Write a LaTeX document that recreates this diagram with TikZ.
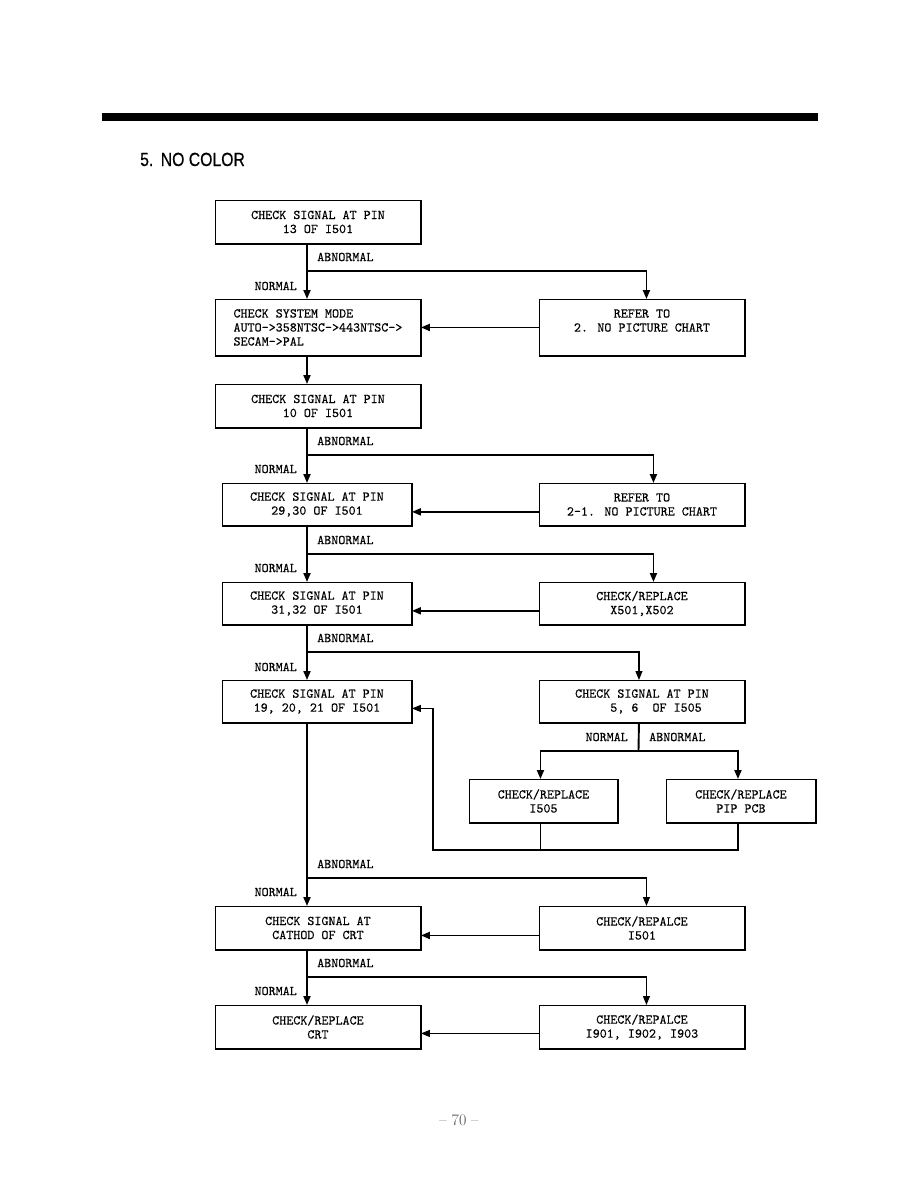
\documentclass[tikz,border=0pt]{standalone}
\usepackage{fontspec}
\newfontfamily\titlefont{Liberation Sans}[FakeBold=0.6]
\newfontfamily\boxfont{lmmono10-regular.otf}[FakeBold=0.3]
\usetikzlibrary{arrows.meta,calc}
\begin{document}
\begin{tikzpicture}[x=1pt,y=-1pt,
  box/.style={draw, line width=0.9pt, inner sep=0pt, align=center, anchor=north west,
              font=\fontsize{13.4}{14}\selectfont\boxfont},
  wh/.style 2 args={minimum width=#1pt, minimum height=#2pt},
  lab/.style={inner sep=0pt, font=\fontsize{13.4}{14}\selectfont\boxfont},
  thk/.style={line width=1.9pt},
  thn/.style={line width=1.1pt},
  tip/.style={-{Triangle[length=9pt,width=7pt]}}
]
\useasboundingbox (0,0) rectangle (918,1188);
% header
\fill (102,113.5) rectangle (818,121);
\node[anchor=base west, inner sep=0pt, font=\titlefont\fontsize{19}{21}\selectfont] (title) at (140,166) {\scalebox{0.83}[1]{5.\hspace{0.1em} NO COLOR}};
\node[inner sep=0pt, font=\fontsize{16}{18}\selectfont, text=black!70] (pg) at (459,1120) {\textendash\ 70 \textendash};

% boxes
\node[box, wh={205}{43}] (b1) at (215,200) {CHECK SIGNAL AT PIN\\13 OF I501};
\node[box, wh={205}{56}, align=left] (b2) at (215,299) {CHECK SYSTEM MODE\\AUTO->358NTSC->443NTSC->\\SECAM->PAL};
\node[box, wh={205}{56}] (r1) at (539,299) {REFER TO\\2. NO PICTURE CHART\\\mbox{}};
\node[box, wh={205}{43}] (b3) at (215,384) {CHECK SIGNAL AT PIN\\10 OF I501};
\node[box, wh={189}{42}] (b4) at (222,483) {CHECK SIGNAL AT PIN\\29,30 OF I501};
\node[box, wh={205}{42}] (r2) at (539,483) {REFER TO\\2-1. NO PICTURE CHART};
\node[box, wh={189}{42}] (b5) at (222,582) {CHECK SIGNAL AT PIN\\31,32 OF I501};
\node[box, wh={205}{42}] (r3) at (539,582) {CHECK/REPLACE\\X501,X502};
\node[box, wh={189}{42}] (b6) at (222,680) {CHECK SIGNAL AT PIN\\19, 20, 21 OF I501};
\node[box, wh={205}{42}, align=left] (r4) at (539,680) {CHECK SIGNAL AT PIN\\\hspace*{2.625em}5,\hspace{0.525em}6\hspace{1.05em}OF I505};
\node[box, wh={148}{43}] (c1) at (469,779) {CHECK/REPLACE\\I505};
\node[box, wh={149}{43}] (c2) at (666,779) {CHECK/REPLACE\\PIP PCB};
\node[box, wh={205}{43}] (b7) at (215,906) {CHECK SIGNAL AT\\CATHOD OF CRT};
\node[box, wh={205}{43}] (r5) at (539,906) {CHECK/REPALCE\\I501};
\node[box, wh={205}{43}] (b8) at (215,1005) {CHECK/REPLACE\\CRT};
\node[box, wh={205}{43}] (r6) at (539,1005) {CHECK/REPALCE\\I901, I902, I903};

% heavier bottom/right edges
\foreach \n in {b1,b2,r1,b3,b4,r2,b5,r3,b6,r4,c1,c2,b7,r5,b8,r6}
  \draw[line width=1.9pt] (\n.north east) -- (\n.south east) -- (\n.south west);

% coordinates
\coordinate (sx) at (307,0);
\coordinate (j1) at (307,271);
\coordinate (j2) at (307,455);
\coordinate (j3) at (307,554);
\coordinate (j4) at (307,652);
\coordinate (j6) at (307,878);
\coordinate (j7) at (307,977);
\coordinate (j5) at (638.5,751);
\coordinate (lp) at (433,850);

% main stems
\draw[thk,tip] (b1.south -| sx) -- (b2.north -| sx);
\draw[thk,tip] (b2.south -| sx) -- (b3.north -| sx);
\draw[thk,tip] (b3.south -| sx) -- (b4.north -| sx);
\draw[thk,tip] (b4.south -| sx) -- (b5.north -| sx);
\draw[thk,tip] (b5.south -| sx) -- (b6.north -| sx);
\draw[thk,tip] (b6.south -| sx) -- (b7.north -| sx);
\draw[thk,tip] (b7.south -| sx) -- (b8.north -| sx);

% abnormal branches
\draw[thk,tip] (j1) -| ([xshift=4.5pt]r1.north);
\draw[thk,tip] (j2) -| ([xshift=11.5pt]r2.north);
\draw[thk,tip] (j3) -| ([xshift=11.5pt]r3.north);
\draw[thn,tip] (j4) -| ([xshift=-3pt]r4.north);
\draw[thn,tip] (j6) -| ([xshift=4.5pt]r5.north);
\draw[thn,tip] (j7) -| ([xshift=4.5pt]r6.north);

% return arrows
\draw[thk,tip] (r1.west) -- (b2.east);
\draw[thk,tip] ([yshift=-7.4pt]r2.west) -- ([yshift=-7.4pt]b4.east);
\draw[thk,tip] ([yshift=-7.4pt]r3.west) -- ([yshift=-7.4pt]b5.east);
\draw[thk,tip] ([yshift=-7.5pt]r5.west) -- ([yshift=-7.5pt]b7.east);
\draw[thn,tip] ([yshift=-6.5pt]r6.west) -- ([yshift=-6.5pt]b8.east);

% I505 sub-branch
\draw[thk] ([xshift=-3pt]r4.south) -- (j5);
\draw[thk,tip] (j5) -| ([xshift=-3pt]c1.north);
\draw[thk,tip] (j5) -| ([xshift=-3pt]c2.north);
\draw[thn] ([xshift=-3pt]c1.south) -- ([xshift=-3pt]c1.south |- lp);
\draw[thn,tip] ([xshift=-3pt]c2.south) |- (lp) |- ([yshift=-7pt]b6.east);

% labels
\foreach \y in {257,441,540,638,864,963}
  \node[lab, anchor=west] at (317,\y) {ABNORMAL};
\foreach \y in {286,469,568,667,892,991}
  \node[lab, anchor=east] at (297,\y) {NORMAL};
\node[lab, anchor=east] (ln) at (628,737) {NORMAL};
\node[lab, anchor=west] (la) at (649,737) {ABNORMAL};
\end{tikzpicture}
\end{document}
